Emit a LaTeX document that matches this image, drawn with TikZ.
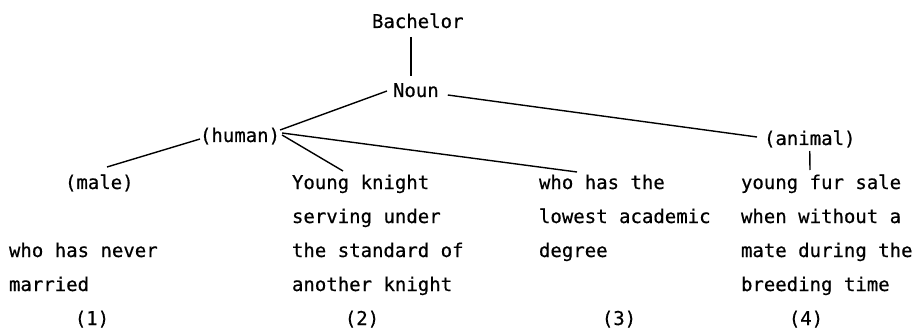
\documentclass[tikz,border=0pt]{standalone}
\usepackage{fontspec}
\newfontfamily\typer[FakeBold=0.5]{DejaVu Sans Mono}
\usetikzlibrary{calc}

\begin{document}
\begin{tikzpicture}[x=1pt,y=-1pt,
    txt/.style={inner sep=0pt,outer sep=0pt,font=\typer\fontsize{19}{34}\selectfont,align=left},
    branch/.style={line width=1.4pt,black}]
  \useasboundingbox[fill=white] (0,0) rectangle (913,334);

  % tree labels
  \node[txt,anchor=base west] (bach)   at (372,28)  {Bachelor};
  \node[txt,anchor=base west] (noun)   at (393,97)  {Noun};
  \node[txt,anchor=base west] (human)  at (200,142) {(human)};
  \node[txt,anchor=base west] (animal) at (764,145) {(animal)};
  \node[txt,anchor=base west] (male)   at (65,189)  {(male)};

  % sense glosses (multi-line nodes sit on the baseline of their last line)
  \node[txt,anchor=base west] (s1) at (9,291)   {who has never\\married};
  \node[txt,anchor=base west] (s2) at (292,291) {Young knight\\serving under\\the standard of\\another knight};
  \node[txt,anchor=base west] (s3) at (539,257) {who has the\\lowest academic\\degree};
  \node[txt,anchor=base west] (s4) at (741,291) {young fur sale\\when without a\\mate during the\\breeding time};

  % sense numbers
  \node[txt,anchor=base] (n1) at (92,325)  {(1)};
  \node[txt,anchor=base] (n2) at (362,325) {(2)};
  \node[txt,anchor=base] (n3) at (619,325) {(3)};
  \node[txt,anchor=base] (n4) at (806,325) {(4)};

  % branches
  \draw[branch] ($(bach.base west)+(39,9)$) -- ($(noun.base west)+(18,-21)$);
  \draw[branch] ($(noun.base west)+(-6,-6)$) -- ($(human.base east)+(0,-12)$);
  \draw[branch] ($(noun.base east)+(9,-2)$) -- ($(animal.base west)+(-7,-8)$);
  \draw[branch] ($(human.base west)+(0,-3)$) -- ($(male.base west)+(42,-22)$);
  \draw[branch] ($(human.base east)+(2,-7)$) -- ($(s2.base west)+(51,-120)$);
  \draw[branch] ($(human.base east)+(2,-9)$) -- ($(s3.base west)+(38,-85)$);
  \draw[branch] ($(animal.base)+(0,6)$) -- ($(s4.base west)+(69,-121)$);
\end{tikzpicture}
\end{document}
